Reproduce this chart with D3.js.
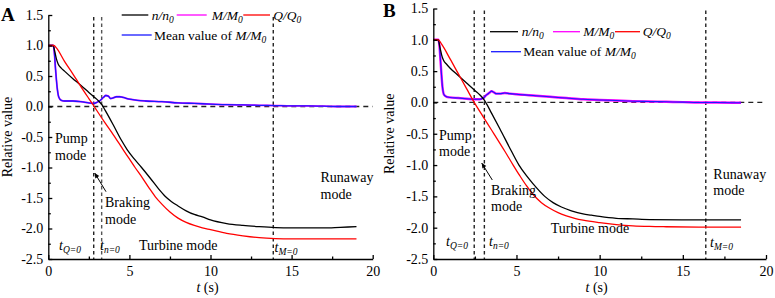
<!DOCTYPE html>
<html><head><meta charset="utf-8">
<script src="https://cdn.jsdelivr.net/npm/d3@7"></script>
<style>
body{margin:0;background:#fff;}
svg{display:block;}
text{font-family:"Liberation Serif","Times New Roman",serif;fill:#000;}
</style></head>
<body><svg id="c" width="775" height="298"></svg>
<script>
// ---------- DATA ----------
const xTicks = [0, 5, 10, 15, 20];
const xMinor = [2.5, 7.5, 12.5, 17.5];
const yTicks = [-2.5, -2.0, -1.5, -1.0, -0.5, 0.0, 0.5, 1.0, 1.5];
const yMinor = [-2.25, -1.75, -1.25, -0.75, -0.25, 0.25, 0.75, 1.25];

// Panel A
const nA = [[0,1],[0.3,1],[0.4,0.9],[0.5,0.78],[0.6,0.7],[0.8,0.63],[1.0,0.58],[1.5,0.46],[2.0,0.35],[2.5,0.23],[2.8,0.16],[3.1,0.09],[3.3,0.03],[3.5,-0.06],[4.0,-0.3],[4.5,-0.55],[4.87,-0.71],[5.3,-0.86],[5.75,-1.0],[6.3,-1.18],[6.8,-1.35],[7.2,-1.47],[7.6,-1.56],[8.0,-1.63],[8.5,-1.71],[9.0,-1.77],[9.5,-1.81],[10,-1.86],[11,-1.92],[12,-1.95],[13,-1.97],[14,-1.985],[15,-1.99],[16,-1.99],[17,-1.99],[18,-1.98],[19,-1.97]];
const qA = [[0,1],[0.35,1],[0.5,0.96],[1.0,0.74],[1.5,0.54],[2.0,0.33],[2.5,0.13],[2.83,0],[3.0,-0.07],[3.5,-0.27],[4.0,-0.46],[4.62,-0.71],[5.0,-0.86],[5.35,-1.0],[5.8,-1.17],[6.2,-1.33],[6.6,-1.48],[7.0,-1.6],[7.5,-1.73],[8.0,-1.83],[8.5,-1.9],[9.0,-1.95],[9.5,-1.99],[10,-2.02],[11,-2.08],[12,-2.12],[13,-2.15],[14,-2.165],[15,-2.17],[17,-2.17],[19,-2.17]];
const mA = [[0,1],[0.3,1],[0.35,0.95],[0.45,0.6],[0.55,0.3],[0.65,0.15],[0.8,0.1],[1.0,0.09],[1.5,0.09],[2.0,0.08],[2.5,0.06],[2.8,0.05],[3.0,0.07],[3.2,0.1],[3.4,0.15],[3.55,0.18],[3.7,0.17],[3.85,0.13],[4.0,0.14],[4.2,0.16],[4.4,0.16],[4.6,0.15],[5.0,0.12],[5.5,0.1],[6,0.09],[7,0.08],[8,0.06],[9,0.05],[10,0.04],[11,0.03],[12,0.025],[13,0.02],[14,0.015],[15,0.01],[16,0.01],[17,0.005],[18,0.0],[19,0.0]];
const meanA = [[0,1],[0.3,1],[0.35,0.95],[0.45,0.6],[0.55,0.3],[0.65,0.15],[0.8,0.1],[1.0,0.09],[1.5,0.09],[2.0,0.08],[2.5,0.06],[2.8,0.05],[3.0,0.07],[3.2,0.1],[3.4,0.15],[3.55,0.18],[3.7,0.17],[3.85,0.13],[4.0,0.14],[4.2,0.16],[4.4,0.16],[4.6,0.15],[5.0,0.12],[5.5,0.1],[6,0.09],[7,0.08],[8,0.06],[9,0.05],[10,0.04],[11,0.03],[12,0.025],[13,0.02],[14,0.015],[15,0.01],[16,0.01],[17,0.005],[18,0.0],[19,0.0]];
const vlinesA = [2.8, 3.29, 13.87];

// Panel B
const nB = [[0,1],[0.3,1],[0.4,0.88],[0.5,0.76],[0.6,0.68],[0.8,0.61],[1.0,0.55],[1.5,0.43],[2.0,0.31],[2.5,0.19],[2.8,0.12],[3.0,0.06],[3.15,0],[3.5,-0.17],[4.0,-0.42],[4.7,-0.78],[5.15,-1.0],[5.6,-1.17],[6.0,-1.3],[6.7,-1.5],[7.2,-1.6],[7.7,-1.67],[8.3,-1.73],[9.0,-1.78],[9.5,-1.8],[10,-1.82],[11,-1.85],[12,-1.86],[13,-1.87],[15,-1.875],[18.5,-1.875]];
const qB = [[0,1],[0.3,1],[0.5,0.93],[1.0,0.7],[1.5,0.46],[2.0,0.22],[2.46,0],[3.0,-0.23],[3.5,-0.44],[4.3,-0.78],[4.8,-1.0],[5.2,-1.17],[5.6,-1.33],[6.0,-1.47],[6.5,-1.6],[7.0,-1.69],[7.5,-1.76],[8.0,-1.81],[8.5,-1.85],[9.0,-1.88],[10,-1.92],[11,-1.95],[12,-1.97],[13,-1.98],[14,-1.985],[16,-1.99],[18.5,-1.99]];
const mB = [[0,1],[0.3,1],[0.35,0.95],[0.45,0.6],[0.55,0.25],[0.65,0.12],[0.8,0.09],[1.0,0.08],[1.5,0.07],[2.0,0.06],[2.5,0.05],[2.8,0.05],[3.0,0.07],[3.2,0.12],[3.4,0.16],[3.5,0.18],[3.65,0.16],[3.8,0.14],[4.0,0.14],[4.3,0.15],[4.6,0.14],[5.0,0.13],[5.5,0.12],[6,0.11],[7,0.09],[8,0.07],[9,0.05],[10,0.04],[11,0.03],[12,0.02],[13,0.015],[14,0.01],[15,0.005],[16,0.0],[17,0.0],[18.5,-0.005]];
const meanB = [[0,1],[0.3,1],[0.35,0.95],[0.45,0.6],[0.55,0.25],[0.65,0.12],[0.8,0.09],[1.0,0.08],[1.5,0.07],[2.0,0.06],[2.5,0.05],[2.8,0.05],[3.0,0.07],[3.2,0.12],[3.4,0.16],[3.5,0.18],[3.65,0.16],[3.8,0.14],[4.0,0.14],[4.3,0.15],[4.6,0.14],[5.0,0.13],[5.5,0.12],[6,0.11],[7,0.09],[8,0.07],[9,0.05],[10,0.04],[11,0.03],[12,0.02],[13,0.015],[14,0.01],[15,0.005],[16,0.0],[17,0.0],[18.5,-0.005]];
const vlinesB = [2.46, 3.07, 16.38];

const colors = {n:"#000000", M:"#ff00ff", Q:"#ff0000", mean:"#1a1aff"};

// ---------- DRAW ----------
const svg = d3.select("#c");

function panel(cfg){
  const g = svg.append("g");
  const x = d3.scaleLinear().domain([0,20]).range(cfg.xr);
  const y = d3.scaleLinear().domain([-2.5,1.5]).range(cfg.yr);
  const fs = 14;

  // dashed verticals
  cfg.vlines.forEach((v,i)=>{
    g.append("line").attr("x1",x(v)).attr("x2",x(v)).attr("y1",y(1.5)+2).attr("y2",y(-2.5))
     .attr("stroke", i===1 && cfg.lighter ? "#555" : "#222").attr("stroke-width",1.4)
     .attr("stroke-dasharray","3.5,3");
  });
  // dashed horizontal at 0
  g.append("line").attr("x1",x(0)).attr("x2",x(20)).attr("y1",y(0)).attr("y2",y(0))
   .attr("stroke","#222").attr("stroke-width",1.3).attr("stroke-dasharray","5,4");

  const line = d3.line().x(d=>x(d[0])).y(d=>y(d[1])).curve(d3.curveMonotoneX);
  g.append("path").datum(cfg.M).attr("d",line).attr("fill","none").attr("stroke",colors.M).attr("stroke-width",cfg.mw);
  g.append("path").datum(cfg.mean).attr("d",line).attr("fill","none").attr("stroke",colors.mean).attr("stroke-width",cfg.bw);
  g.append("path").datum(cfg.n).attr("d",line).attr("fill","none").attr("stroke",colors.n).attr("stroke-width",1.3);
  g.append("path").datum(cfg.Q).attr("d",line).attr("fill","none").attr("stroke",colors.Q).attr("stroke-width",1.3);

  // axes
  const ya = g.append("g").attr("transform",`translate(${x(0)},0)`)
    .call(d3.axisLeft(y).tickValues(yTicks).tickSize(-4).tickSizeOuter(0).tickPadding(5).tickFormat(d=>d.toFixed(1)));
  const yam = g.append("g").attr("transform",`translate(${x(0)},0)`)
    .call(d3.axisLeft(y).tickValues(yMinor).tickSize(-2.5).tickSizeOuter(0).tickFormat(""));
  yam.select(".domain").remove();
  const xa = g.append("g").attr("transform",`translate(0,${y(-2.5)})`)
    .call(d3.axisBottom(x).tickValues(xTicks).tickSize(-4).tickSizeOuter(0).tickPadding(7).tickFormat(d3.format("d")));
  const xam = g.append("g").attr("transform",`translate(0,${y(-2.5)})`)
    .call(d3.axisBottom(x).tickValues(xMinor).tickSize(-2.5).tickSizeOuter(0).tickFormat(""));
  xam.select(".domain").remove();
  [ya,yam,xa,xam].forEach(a=>{
    a.selectAll("path,line").attr("stroke","#000").attr("stroke-width",1.3);
    a.selectAll("text").attr("font-family","Liberation Serif").attr("font-size",fs).attr("fill","#000");
  });

  // axis titles
  g.append("text").attr("transform",`translate(${cfg.ylabX},${(y(1.5)+y(-2.5))/2}) rotate(-90)`)
   .attr("text-anchor","middle").attr("font-size",fs).text("Relative value");
  const xt = g.append("text").attr("x",(x(0)+x(20))/2 - 3).attr("y",292).attr("text-anchor","middle").attr("font-size",fs);
  xt.append("tspan").attr("font-style","italic").text("t");
  xt.append("tspan").text(" (s)");

  // panel letter
  g.append("text").attr("x",cfg.letterX).attr("y",cfg.letterY).attr("font-family","Liberation Sans").attr("font-weight","bold")
   .attr("font-size",19).text(cfg.letter);

  // legend
  const L = cfg.leg;
  const lg = g.append("g");
  const sub = (t, main, s) => { t.append("tspan").attr("font-style","italic").text(main);
    t.append("tspan").attr("font-style","italic").attr("font-size",9.5).attr("dy",3).text(s); };
  [["n",L.r1[0],"n/n"],["M",L.r1[1],"M/M"],["Q",L.r1[2],"Q/Q"]].forEach(([k,p,lab])=>{
    lg.append("line").attr("x1",p[0]).attr("x2",p[1]).attr("y1",L.y1).attr("y2",L.y1).attr("stroke",colors[k]).attr("stroke-width",1.3);
    const t = lg.append("text").attr("x",p[2]).attr("y",L.y1+4.5).attr("font-size",13.5);
    sub(t, lab, "0");
  });
  lg.append("line").attr("x1",L.r2[0]).attr("x2",L.r2[1]).attr("y1",L.y2).attr("y2",L.y2).attr("stroke",colors.mean).attr("stroke-width",1.3);
  const t2 = lg.append("text").attr("x",L.r2[2]).attr("y",L.y2+4.5).attr("font-size",13.5);
  t2.append("tspan").text("Mean value of ");
  sub(t2,"M/M","0");

  // annotations
  const A = cfg.ann;
  const txt = (p, s) => g.append("text").attr("x",p[0]).attr("y",p[1]).attr("font-size",fs).text(s);
  txt(A.pump, "Pump"); txt([A.pump[0], A.pump[1]+A.gap], "mode");
  txt(A.brak, "Braking"); txt([A.brak[0], A.brak[1]+A.gap], "mode");
  txt(A.turb, "Turbine mode");
  txt(A.run, "Runaway"); txt([A.run[0], A.run[1]+A.gap], "mode");
  const tsub = (p, s) => { const t = g.append("text").attr("x",p[0]).attr("y",p[1]).attr("font-size",fs).attr("fill","#222");
    t.append("tspan").attr("font-style","italic").text("t");
    t.append("tspan").attr("font-style","italic").attr("font-size",9.5).attr("dy",3).text(s); };
  tsub(A.tq, "Q=0"); tsub(A.tn, "n=0"); tsub(A.tm, "M=0");
  // arrow
  const a = A.arrow;
  g.append("line").attr("x1",a[0]).attr("y1",a[1]).attr("x2",a[2]).attr("y2",a[3]).attr("stroke","#000").attr("stroke-width",1);
  const ang = Math.atan2(a[3]-a[1], a[2]-a[0]);
  const hl = 5, hw = 2.3;
  const bx = a[2]-hl*Math.cos(ang), by = a[3]-hl*Math.sin(ang);
  g.append("path").attr("d",`M${a[2]},${a[3]}L${bx+hw*Math.sin(ang)},${by-hw*Math.cos(ang)}L${bx-hw*Math.sin(ang)},${by+hw*Math.cos(ang)}Z`).attr("fill","#000");
}

panel({
  xr:[48.3,372.7], yr:[259,15], vlines:vlinesA, lighter:true,
  n:nA, Q:qA, M:mA, mean:meanA, mw:1.8, bw:1.3,
  ylabX:12, letter:"A", letterX:1, letterY:21,
  leg:{y1:15, y2:35, r1:[[121.7,148.3,151.7],[176.7,206.7,211.7],[243.3,270,273.3]], r2:[121.7,151.7,154]},
  ann:{gap:17, pump:[55,143], brak:[105,207], turb:[139,250], run:[320.5,181.5],
       tq:[59,250], tn:[100,250], tm:[274.5,252], arrow:[106,191.7,94.7,173]}
});
panel({
  xr:[433.3,766], yr:[259,8.5], vlines:vlinesB, lighter:false,
  n:nB, Q:qB, M:mB, mean:meanB, mw:2.4, bw:1.1,
  ylabX:394, letter:"B", letterX:383, letterY:17,
  leg:{y1:31.7, y2:51.7, r1:[[490,518,521.7],[553,580,583.3],[615,640,642.7]], r2:[491,521,523.3]},
  ann:{gap:16, pump:[439,140], brak:[491,195], turb:[550.7,233.3], run:[713.3,179.3],
       tq:[446,246], tn:[489,246], tm:[710,247], arrow:[492.3,180,481.7,163]}
});
</script></body></html>
